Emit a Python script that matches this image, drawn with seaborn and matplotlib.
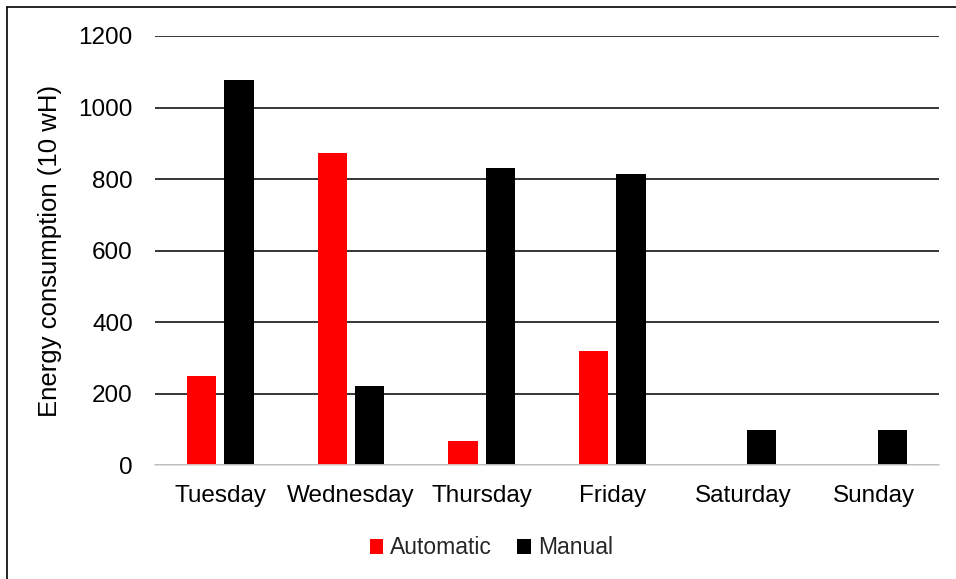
import matplotlib
matplotlib.use("Agg")
import matplotlib.pyplot as plt
from matplotlib.lines import Line2D
import seaborn as sns
import pandas as pd

days = ["Tuesday", "Wednesday", "Thursday", "Friday", "Saturday", "Sunday"]
automatic = [251, 873, 67, 320, 0, 0]
manual = [1078, 223, 831, 814, 98, 98]
series_names = ["Automatic", "Manual"]
colors = {"Automatic": "#ff0000", "Manual": "#000000"}
yticks = [0, 200, 400, 600, 800, 1000, 1200]

df = pd.DataFrame({
    "day": days * 2,
    "value": automatic + manual,
    "series": [series_names[0]] * len(days) + [series_names[1]] * len(days),
})

sns.set_theme(style="white")
plt.rcParams["font.family"] = ["Liberation Sans", "DejaVu Sans"]

fig = plt.figure(figsize=(9.56, 5.79), dpi=100)
ax = fig.add_axes([155/956, 1 - 465.3/579, (939-155)/956, (465.3-36)/579])

sns.barplot(data=df, x="day", y="value", hue="series", order=days,
            hue_order=series_names, palette=colors, width=0.568, gap=0.21,
            saturation=1, linewidth=0, ax=ax, zorder=3)

fs = 17.5
ax.set_ylim(0, 1200)
ax.set_xlim(-0.5, len(days) - 0.5)
ax.set_yticks(yticks)
ax.set_yticklabels([str(t) for t in yticks], fontsize=fs, color="#000000")
ax.tick_params(axis="x", labelsize=fs, colors="#000000", length=0, pad=14)
ax.tick_params(axis="y", length=0, pad=16)
ax.set_xlabel("")
ax.set_ylabel("Energy consumption (10 wH)", fontsize=18.5, color="#000000", labelpad=12)
ax.yaxis.grid(True, color="#000000", linewidth=1.1, zorder=0)
ax.set_axisbelow(True)
for s in ["top", "right", "left"]:
    ax.spines[s].set_visible(False)
ax.spines["bottom"].set_color("#d9d9d9")
ax.spines["bottom"].set_linewidth(1.2)
ax.spines["bottom"].set_zorder(4)

handles, labels = ax.get_legend_handles_labels()
ax.legend(handles, labels, loc="center", bbox_to_anchor=(0.514, 31/579), bbox_transform=fig.transFigure,
          ncol=2, frameon=False, fontsize=16.5, handlelength=0.6, handleheight=0.6,
          handletextpad=0.3, columnspacing=1.1)

fig.add_artist(Line2D([7/956, 1.0], [1 - 7/579, 1 - 7/579], color="black", linewidth=1.2, transform=fig.transFigure))
fig.add_artist(Line2D([7/956, 7/956], [0.0, 1 - 7/579], color="black", linewidth=1.2, transform=fig.transFigure))

fig.savefig("out.png", dpi=100, facecolor="white")
